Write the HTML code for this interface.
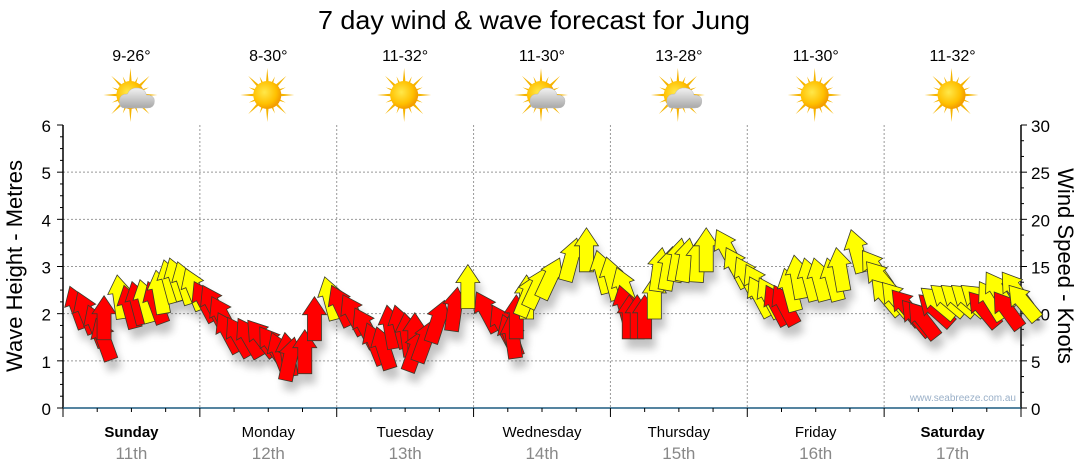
<!DOCTYPE html>
<html><head><meta charset="utf-8"><style>
html,body{margin:0;padding:0;background:#fff;}
svg{display:block;font-family:"Liberation Sans",Arial,sans-serif;}
</style></head><body>
<svg id="chart" width="1080" height="475" viewBox="0 0 1080 475" xmlns="http://www.w3.org/2000/svg">
<defs>
<filter id="shadow" x="-50%" y="-50%" width="200%" height="200%"><feGaussianBlur stdDeviation="4"/></filter>
<radialGradient id="sunG" cx="0.4" cy="0.4" r="0.6"><stop offset="0" stop-color="#ffe84a"/><stop offset="0.7" stop-color="#ffc000"/><stop offset="1" stop-color="#f39c00"/></radialGradient>
<linearGradient id="cloudG" x1="0" y1="0" x2="0" y2="1"><stop offset="0" stop-color="#f2f2f2"/><stop offset="1" stop-color="#a8a8a8"/></linearGradient>
</defs>
<text x="534" y="29" text-anchor="middle" font-size="26" fill="#000" textLength="432" lengthAdjust="spacingAndGlyphs">7 day wind &amp; wave forecast for Jung</text>
<g id="weather"></g>
<g id="grid"></g>
<g id="axes"></g>
<g id="shadows" filter="url(#shadow)" opacity="0.35"></g>
<g id="arrows"></g>
<text transform="translate(22,266) rotate(-90)" text-anchor="middle" font-size="22" fill="#000">Wave Height - Metres</text>
<text transform="translate(1058,266) rotate(90)" text-anchor="middle" font-size="22" fill="#000">Wind Speed - Knots</text>
<text x="1016" y="401" text-anchor="end" font-size="10" fill="#9ab0c8">www.seabreeze.com.au</text>
</svg>
<script>
const days = ["Sunday","Monday","Tuesday","Wednesday","Thursday","Friday","Saturday"];
const dates = ["11th","12th","13th","14th","15th","16th","17th"];
const temps = ["9-26°","8-30°","11-32°","11-30°","13-28°","11-30°","11-32°"];
const cloudy = [1,0,0,1,1,0,0];
const waveTicks = [0,1,2,3,4,5,6];
const windTicks = [0,5,10,15,20,25,30];
const hours = [1.2,2.6,4.4,5.8,7.2,9.5,10.7,12.1,13.5,14.9,16.3,17.7,18.7,20.1,21.5,23.0,
24.5,26.1,27.2,28.9,30.7,32.4,34.5,36.6,38.9,40.6,42.4,44.1,45.9,47.1,
49.1,51.2,53.3,55.0,56.8,58.2,59.9,61.7,63.1,64.8,66.9,69.2,71.0,
72.5,75.3,77.1,78.3,79.5,81.3,83.0,84.8,87.1,90.1,91.8,93.6,95.3,97.1,
97.6,99.3,100.7,102.0,103.7,105.1,106.9,108.5,109.9,111.6,112.8,114.6,116.3,118.1,119.8,
120.4,122.1,123.3,124.7,126.5,128.2,130.0,131.7,134.0,135.6,138.2,140.2,140.9,141.9,143.7,
145.4,147.2,148.4,150.1,150.5,152.2,154.0,155.8,157.5,158.9,160.7,161.9,163.3,164.7,165.9];
const knots = [12.9,12.3,10.9,9.5,11.9,14.1,13.0,13.4,13.6,13.4,14.6,15.7,15.9,15.5,14.8,13.4,
13.0,11.8,10.1,9.6,9.5,9.3,8.6,8.0,8.0,7.5,8.3,11.8,13.9,13.0,
12.0,10.6,9.0,8.6,10.9,10.9,10.1,10.1,8.3,9.3,11.4,12.8,15.2,
12.3,10.9,9.9,9.9,12.0,14.1,14.1,14.9,15.9,18.0,19.1,16.7,16.0,14.9,
13.0,12.0,12.0,12.0,14.1,17.0,17.1,18.0,18.0,18.0,19.1,18.9,17.0,16.0,15.2,
13.9,13.8,13.0,13.0,14.8,16.2,15.9,15.9,15.9,17.0,18.9,16.7,15.5,13.6,13.3,
12.5,11.4,11.2,12.0,12.7,13.0,13.0,13.0,13.0,12.3,13.4,14.4,12.3,14.4,13.0];
const levels = [0,0,0,0,0,1,0,0,1,0,1,1,1,1,1,0,
0,0,0,0,0,0,0,0,0,0,0,0,1,0,
0,0,0,0,0,0,0,0,0,0,0,0,1,
0,0,0,0,0,1,1,1,1,1,1,1,1,1,
0,0,0,0,1,1,1,1,1,1,1,1,1,1,1,
1,1,0,0,1,1,1,1,1,1,1,1,1,1,1,
0,0,0,0,1,1,1,1,1,0,1,1,0,1,1];
const angles = [-20,-22,-22,-20,0,-8,-15,-15,-15,-20,-10,-15,-18,-18,-22,-28,
-28,-28,-28,-30,-30,-38,-35,-22,-8,12,0,0,-15,-25,
-28,-28,-22,-18,-10,-15,-8,0,20,20,18,8,0,
-28,-28,-20,-8,0,0,22,25,25,15,0,-15,-15,-20,
-15,0,0,0,0,8,10,10,10,4,0,-28,-28,-28,-28,
-28,-28,-28,-28,-15,-10,-15,-15,-15,-10,-15,-35,-40,-40,-40,
-40,-40,-38,-48,-50,-50,-50,-50,-50,-40,-32,-32,-36,-36,-40];

const NS="http://www.w3.org/2000/svg";
const X0=63,X1=1021,YT=125,YB=408;
const xH=h=>X0+(X1-X0)*h/168;
const yM=m=>YB-(YB-YT)*m/6;
const yK=k=>YB-(YB-YT)*k/30;
function mk(tag,attrs,parent,text){const e=document.createElementNS(NS,tag);for(const k in attrs)e.setAttribute(k,attrs[k]);if(text!==undefined)e.textContent=text;parent.appendChild(e);return e;}
const grid=document.getElementById('grid'),axes=document.getElementById('axes');
waveTicks.forEach(v=>{if(v>0&&v<6){const l=mk('line',{x1:X0,x2:X1,y1:yM(v),y2:yM(v),stroke:'#999','stroke-dasharray':'2,2','stroke-width':1},grid);

}});
for(let d=1;d<7;d++){const l=mk('line',{x1:xH(d*24),x2:xH(d*24),y1:YT,y2:YB,stroke:'#999','stroke-dasharray':'2,2','stroke-width':1},grid);

}
mk('line',{x1:X0,x2:X0,y1:YT,y2:YB,stroke:'#000','stroke-width':1.5},axes);
mk('line',{x1:X1,x2:X1,y1:YT,y2:YB,stroke:'#000','stroke-width':1.5},axes);
for(let m=0;m<=24;m++){const y=yM(m/4);mk('line',{x1:m%4?X0-3:X0-6,x2:X0,y1:y,y2:y,stroke:'#000'},axes);}
for(let k=0;k<=18;k++){const y=yK(k*5/3);mk('line',{x1:X1,x2:k%3?X1+3:X1+6,y1:y,y2:y,stroke:'#000'},axes);}
waveTicks.forEach(v=>{const t=mk('text',{x:X0-12,y:yM(v)+7,'text-anchor':'end','font-size':17,fill:'#000'},axes,String(v));

});
windTicks.forEach(v=>{const t=mk('text',{x:X1+10,y:yK(v)+7,'font-size':17,fill:'#000'},axes,String(v));

});
mk('line',{x1:X0,x2:X1,y1:YB,y2:YB,stroke:'#1d5c80','stroke-width':1.5},axes);
for(let h=0;h<=168;h+=6){mk('line',{x1:xH(h),x2:xH(h),y1:YB,y2:h%24?YB+4:YB+9,stroke:'#000'},axes);}
const wx=document.getElementById('weather');
days.forEach((d,i)=>{const cx=xH(i*24+12);
const a=mk('text',{x:cx,y:437,'text-anchor':'middle','font-size':15,'font-weight':(i==0||i==6)?'bold':'normal',fill:'#000'},axes,d);


const b=mk('text',{x:cx,y:459,'text-anchor':'middle','font-size':17,fill:'#888'},axes,dates[i]);


const t=mk('text',{x:cx,y:61,'text-anchor':'middle','font-size':16,fill:'#000'},wx,temps[i]);


const g=mk('g',{transform:`translate(${cx-1},95)`},wx);


for(let r=0;r<16;r++){const ang=r*22.5,len=r%2?20:27;mk('polygon',{points:`-2.5,0 2.5,0 0,${-len}`,fill:'#f5b400',transform:`rotate(${ang})`},g);}
mk('circle',{r:14,fill:'url(#sunG)'},g);
if(cloudy[i]){mk('path',{d:'M-6,13 Q-11,13 -11,6 Q-11,-1 -3,-1 Q0,-8 8,-7 Q15,-6 16,0 Q24,0 24,6 Q24,13 17,13 Z',fill:'url(#cloudG)',stroke:'#bbb','stroke-width':0.5},g);}
});
const arr=document.getElementById('arrows'),sh=document.getElementById('shadows');
const P='M0,0 L12,18 L7,18 L7,44 L-7,44 L-7,18 L-12,18 Z';
hours.forEach((h,i)=>{const x=xH(h),y=yK(knots[i]);
const s=mk('path',{d:P,fill:'#555',transform:`translate(${x+4},${y+10}) rotate(${angles[i]})`},sh);


const p=mk('path',{d:P,fill:levels[i]?'#ffff00':'#ff0000',stroke:'#3a3a2a','stroke-width':0.8,'stroke-linejoin':'miter',transform:`translate(${x},${y}) rotate(${angles[i]})`},arr);

});
</script>
</body></html>
